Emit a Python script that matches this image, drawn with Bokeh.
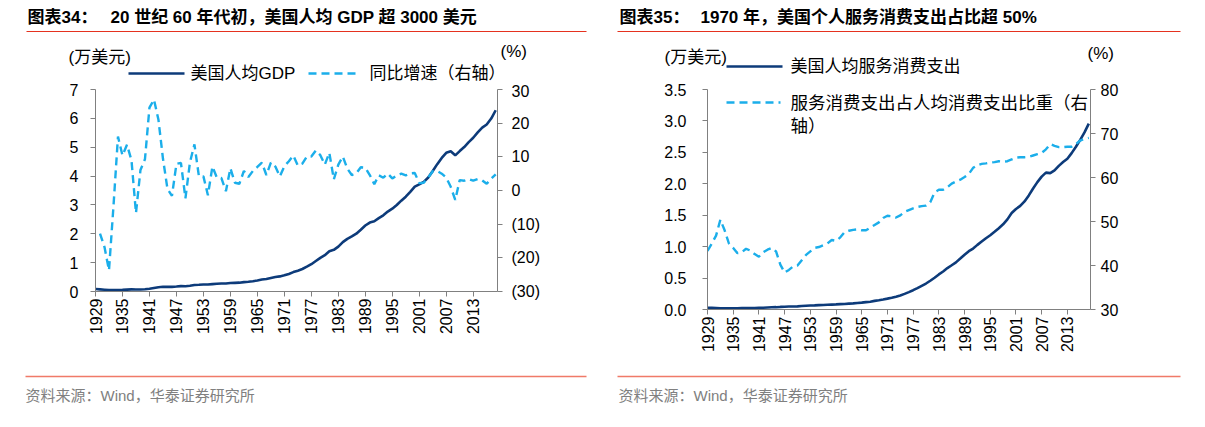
import math
from bokeh.plotting import figure
from bokeh.models import (Range1d, LinearAxis, FixedTicker, CustomJSTickFormatter,
                          Label, Arrow, NumeralTickFormatter)
from bokeh.layouts import row, column
from bokeh.embed import file_html
from bokeh.resources import INLINE

# ---------------- data ----------------
years = list(range(1929, 2019))
tick_years = list(range(1929, 2014, 6))

# US GDP per capita (10k USD)
gdp_pc = [0.086, 0.075, 0.062, 0.048, 0.046, 0.053, 0.058, 0.066, 0.072, 0.067,
          0.071, 0.078, 0.097, 0.123, 0.149, 0.162, 0.163, 0.161, 0.173, 0.187,
          0.183, 0.197, 0.224, 0.233, 0.243, 0.240, 0.256, 0.266, 0.276, 0.275,
          0.293, 0.300, 0.306, 0.324, 0.337, 0.357, 0.382, 0.414, 0.433, 0.469,
          0.502, 0.523, 0.561, 0.609, 0.673, 0.722, 0.780, 0.859, 0.945, 1.056,
          1.167, 1.258, 1.397, 1.443, 1.554, 1.712, 1.824, 1.907, 2.004, 2.142,
          2.286, 2.389, 2.434, 2.542, 2.639, 2.770, 2.869, 2.997, 3.147, 3.285,
          3.452, 3.633, 3.713, 3.800, 3.949, 4.173, 4.413, 4.630, 4.806, 4.857,
          4.719, 4.866, 5.006, 5.178, 5.329, 5.512, 5.677, 5.786, 5.992, 6.281]

# YoY growth (%), right axis, 1930-2018
growth_years = list(range(1930, 2019))
gdp_growth = [-12.8, -16.8, -23.7, -4.6, 16.0, 10.4, 13.6, 9.0, -6.7, 6.1,
              9.3, 24.6, 27.0, 21.0, 9.5, 0.5, -1.6, 7.9, 8.2, -2.3,
              8.3, 13.7, 4.2, 4.2, -1.4, 7.1, 3.8, 3.7, -0.2, 6.6,
              2.3, 2.0, 5.8, 4.0, 5.8, 7.0, 8.3, 4.6, 8.3, 7.1,
              4.2, 7.2, 8.7, 10.4, 7.4, 8.0, 10.1, 10.1, 11.9, 10.5,
              7.7, 11.2, 3.3, 7.7, 10.1, 6.5, 4.6, 5.1, 6.9, 6.8,
              4.6, 1.9, 4.5, 3.8, 5.0, 3.6, 4.5, 5.0, 4.5, 5.1,
              5.2, 2.2, 2.3, 3.9, 5.7, 5.8, 5.0, 3.8, 1.1, -2.8,
              3.1, 2.9, 3.4, 2.9, 3.4, 3.0, 2.0, 3.5, 4.8]

# Per-capita services consumption (10k USD)
svc_pc = [0.028, 0.026, 0.023, 0.020, 0.018, 0.018, 0.019, 0.021, 0.022, 0.022,
          0.022, 0.023, 0.026, 0.028, 0.032, 0.035, 0.037, 0.041, 0.043, 0.047,
          0.048, 0.050, 0.055, 0.059, 0.063, 0.065, 0.069, 0.072, 0.075, 0.078,
          0.081, 0.085, 0.088, 0.093, 0.097, 0.103, 0.109, 0.117, 0.124, 0.137,
          0.148, 0.160, 0.173, 0.187, 0.204, 0.224, 0.249, 0.277, 0.307, 0.341,
          0.377, 0.413, 0.458, 0.506, 0.558, 0.605, 0.659, 0.704, 0.750, 0.810,
          0.871, 0.928, 0.970, 1.028, 1.081, 1.134, 1.182, 1.236, 1.294, 1.355,
          1.434, 1.536, 1.599, 1.649, 1.720, 1.815, 1.924, 2.026, 2.114, 2.178,
          2.169, 2.213, 2.285, 2.346, 2.399, 2.488, 2.589, 2.699, 2.817, 2.956]

# Services share of per-capita consumption (%), right axis
svc_share = [43.3, 45.0, 46.8, 50.4, 48.0, 45.0, 44.0, 42.8, 43.0, 43.8,
             43.4, 42.6, 42.0, 43.0, 43.6, 44.0, 43.2, 40.2, 38.4, 39.0,
             39.8, 40.0, 41.2, 42.4, 43.2, 44.0, 44.2, 44.6, 45.0, 45.8,
             45.6, 46.4, 47.6, 47.9, 48.1, 48.2, 48.0, 48.0, 48.6, 49.2,
             49.8, 50.8, 51.3, 51.2, 50.9, 51.4, 52.2, 52.6, 53.0, 53.3,
             53.5, 53.6, 54.4, 56.6, 57.2, 57.2, 57.8, 58.6, 59.1, 59.5,
             60.1, 60.8, 62.2, 62.8, 63.1, 63.2, 63.4, 63.5, 63.7, 63.6,
             63.7, 64.1, 64.5, 64.6, 64.6, 64.7, 65.0, 65.3, 65.6, 66.4,
             67.6, 67.2, 66.9, 66.9, 67.0, 67.0, 67.6, 68.4, 68.8, 69.0]

left_ticks_1 = [0, 1, 2, 3, 4, 5, 6, 7]
right_ticks_1 = [-30, -20, -10, 0, 10, 20, 30]
left_ticks_2 = [0.0, 0.5, 1.0, 1.5, 2.0, 2.5, 3.0, 3.5]
right_ticks_2 = [30, 40, 50, 60, 70, 80]

NAVY = "#0D3B7A"
SKY = "#1BAEEA"
AXIS = "#808080"
RED = "#E5321F"
RED2 = "#F07A68"
CJK = "Liberation Sans, Noto Sans CJK SC"
NUM = "Liberation Sans"
W = 1205
HDR_H = 82
ROW_H = 278
FTR_H = 67


def style_axis(ax, standoff):
    ax.axis_line_color = AXIS
    ax.major_tick_line_color = AXIS
    ax.minor_tick_line_color = None
    ax.major_tick_in = 0
    ax.major_tick_out = 5
    ax.major_label_standoff = standoff
    ax.major_label_text_font = NUM
    ax.major_label_text_font_size = "16px"
    ax.major_label_text_color = "#000000"


def blank_fig(h, y0):
    # full-canvas frame, page pixel coordinates (y downwards)
    p = figure(width=W, height=h, x_range=Range1d(0, W), y_range=Range1d(y0 + h, y0),
               output_backend="svg", toolbar_location=None,
               x_axis_location=None, y_axis_location=None,
               min_border_left=0, min_border_right=0, min_border_top=0, min_border_bottom=0)
    p.xgrid.visible = False
    p.ygrid.visible = False
    p.outline_line_color = None
    return p


def dtext(p, X, Y, s, size, color="#000000", bold=False):
    p.add_layout(Label(x=X, y=Y, text=s, text_font=CJK, text_font_size=size, text_color=color,
                       text_font_style="bold" if bold else "normal",
                       text_align="left", text_baseline="middle"))


def dline(p, X0, X1, Y, color, width, dash="solid"):
    p.add_layout(Arrow(end=None, x_start=X0, x_end=X1, y_start=Y, y_end=Y,
                       line_color=color, line_width=width, line_dash=dash))


def make_fig(w, h, bl, br, bt, bb, yr, yr2):
    p = figure(width=w, height=h, x_range=Range1d(1929, 2018.4), y_range=Range1d(*yr),
               output_backend="svg", toolbar_location=None,
               min_border_left=bl, min_border_right=br, min_border_top=bt, min_border_bottom=bb)
    p.extra_y_ranges = {"r": Range1d(*yr2)}
    p.xgrid.visible = False
    p.ygrid.visible = False
    p.outline_line_color = None
    return p


# ---------------- header ----------------
hdr = blank_fig(HDR_H, 0)
dtext(hdr, 27, 17, "图表34：", "17px", bold=True)
dtext(hdr, 110, 17, "20 世纪 60 年代初，美国人均 GDP 超 3000 美元", "17px", bold=True)
dline(hdr, 26, 586, 31, RED, 1.2)
dtext(hdr, 68, 57, "(万美元)", "17px")
dtext(hdr, 500, 51, "(%)", "17px")
dline(hdr, 128, 184, 73, NAVY, 2.6)
dtext(hdr, 190, 73, "美国人均GDP", "17px")
dline(hdr, 308, 360, 73, SKY, 2.4, "8 5")
dtext(hdr, 369, 73, "同比增速（右轴）", "17px")

dtext(hdr, 619, 17, "图表35：", "17px", bold=True)
dtext(hdr, 700, 17, "1970 年，美国个人服务消费支出占比超 50%", "17px", bold=True)
dline(hdr, 617, 1180, 31, RED, 1.2)
dtext(hdr, 664, 57, "(万美元)", "17px")
dtext(hdr, 1087, 53, "(%)", "17px")
dline(hdr, 726, 782, 66, NAVY, 2.6)
dtext(hdr, 790, 66, "美国人均服务消费支出", "17px")

# ---------------- left chart ----------------
p1 = make_fig(606, 260, 95, 109, 7, 51, (0, 7), (-30, 30))
p1.add_layout(LinearAxis(y_range_name="r"), "right")
p1.line(years, gdp_pc, line_color=NAVY, line_width=2.6)
p1.line(growth_years, gdp_growth, y_range_name="r", line_color=SKY, line_width=2.4, line_dash="8 5")
xa = p1.xaxis[0]
style_axis(xa, 2)
xa.ticker = FixedTicker(ticks=tick_years)
xa.major_label_orientation = math.pi / 2
ya = p1.yaxis[0]
style_axis(ya, 12)
ya.ticker = FixedTicker(ticks=left_ticks_1)
yr = p1.yaxis[1]
style_axis(yr, 9)
yr.ticker = FixedTicker(ticks=right_ticks_1)
yr.formatter = CustomJSTickFormatter(code="return tick < 0 ? '(' + Math.abs(tick) + ')' : String(tick);")

# ---------------- right chart ----------------
p2 = make_fig(599, 278, 101, 115, 7, 51, (0, 3.5), (30, 80))
p2.add_layout(LinearAxis(y_range_name="r"), "right")
p2.line(years, svc_pc, line_color=NAVY, line_width=2.6)
p2.line(years, svc_share, y_range_name="r", line_color=SKY, line_width=2.4, line_dash="8 5")
xa2 = p2.xaxis[0]
style_axis(xa2, 2)
xa2.ticker = FixedTicker(ticks=tick_years)
xa2.major_label_orientation = math.pi / 2
ya2 = p2.yaxis[0]
style_axis(ya2, 16)
ya2.ticker = FixedTicker(ticks=left_ticks_2)
ya2.formatter = NumeralTickFormatter(format="0.0")
yr2 = p2.yaxis[1]
style_axis(yr2, 5)
yr2.ticker = FixedTicker(ticks=right_ticks_2)

# legend rows 2-3 of right chart sit inside its plot frame (frame: page x 707, bottom y 309)
FX, FY = 707, 309
p2.add_layout(Arrow(end=None, x_start=726 - FX, x_end=780 - FX, y_start=FY - 102, y_end=FY - 102,
                    start_units="screen", end_units="screen",
                    line_color=SKY, line_width=2.4, line_dash="8 5"))
for X, Y, s in [(790, 102, "服务消费支出占人均消费支出比重（右"), (790, 125, "轴）")]:
    p2.add_layout(Label(x=X - FX, y=FY - Y, x_units="screen", y_units="screen", text=s,
                        text_font=CJK, text_font_size="17.5px", text_color="#000000",
                        text_align="left", text_baseline="middle"))

# ---------------- footer ----------------
ftr = blank_fig(FTR_H, HDR_H + ROW_H)
dline(ftr, 25, 586, 376, RED2, 1.6)
dtext(ftr, 25, 395, "资料来源：Wind，华泰证券研究所", "15px", color="#808080")
dline(ftr, 617, 1180, 376, RED2, 1.6)
dtext(ftr, 618, 395, "资料来源：Wind，华泰证券研究所", "15px", color="#808080")

layout = column(hdr, row(p1, p2), ftr)
open("out.html", "w").write(file_html(layout, INLINE))
